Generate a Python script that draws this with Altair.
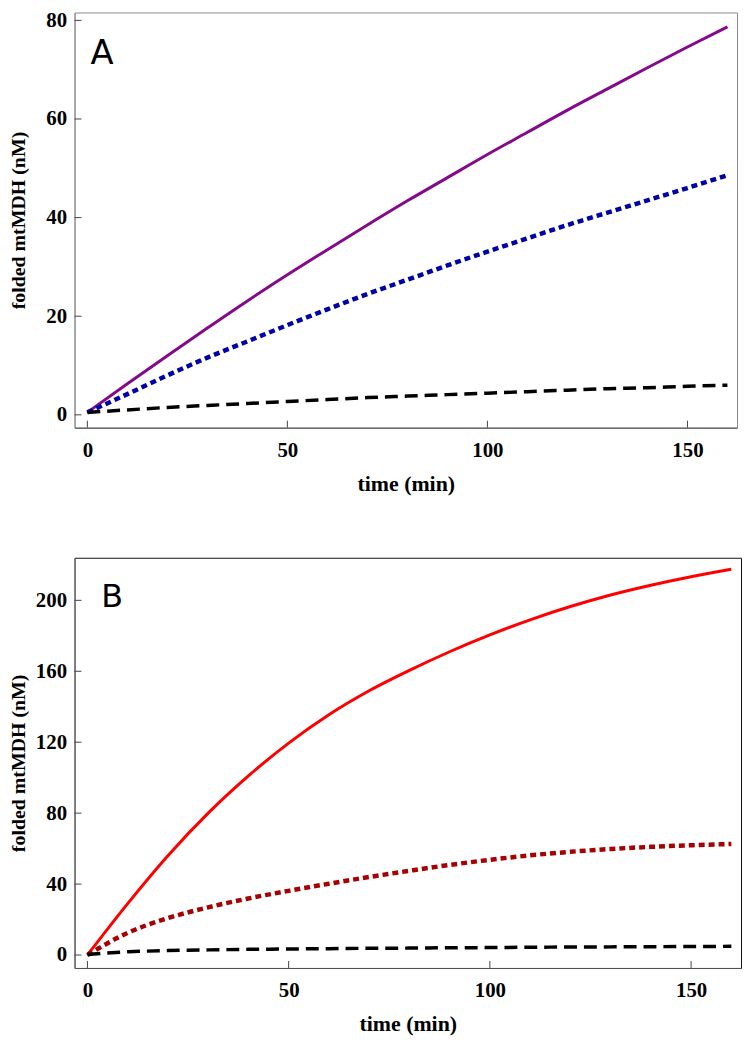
import altair as alt
import pandas as pd

# ---------------- data ----------------
time_a = [0, 10, 20, 30, 40, 50, 60, 70, 80, 90, 100, 110, 120, 130, 140, 150, 160]
purple_a = [0.5, 6.3, 12.0, 17.6, 23.1, 28.4, 33.5, 38.5, 43.4, 48.1, 52.8, 57.3, 61.8, 66.1, 70.4, 74.6, 78.7]
blue_a = [0.5, 4.2, 8.0, 11.6, 14.9, 18.2, 21.4, 24.5, 27.4, 30.3, 33.1, 35.8, 38.5, 41.0, 43.5, 46.0, 48.6]
black_a = [0.5, 1.0, 1.5, 1.9, 2.3, 2.7, 3.1, 3.5, 3.8, 4.1, 4.4, 4.7, 5.0, 5.3, 5.5, 5.8, 6.0]

time_b = [0, 10, 20, 30, 40, 50, 60, 70, 80, 90, 100, 110, 120, 130, 140, 150, 160]
red_b = [0, 29, 56, 80, 101, 119.5, 135.5, 149, 160.5, 171, 180.5, 189, 196.5, 203, 208.5, 213.3, 217.5]
darkred_b = [0, 12.5, 20.8, 26.9, 31.9, 36.2, 40.2, 44.0, 47.5, 50.8, 53.7, 56.2, 58.2, 59.8, 61.0, 61.9, 62.6]
black_b = [0.3, 1.8, 2.5, 2.9, 3.2, 3.4, 3.6, 3.8, 3.9, 4.1, 4.2, 4.4, 4.5, 4.6, 4.7, 4.8, 4.9]

x_ticks = [0, 50, 100, 150]
y_ticks_a = [0, 20, 40, 60, 80]
y_ticks_b = [0, 40, 80, 120, 160, 200]

x_title = "time (min)"
y_title = "folded mtMDH (nM)"

SERIF = "Liberation Serif"


def panel(times, series, y_ticks, y_domain, w, h, letter, letter_pos, letter_size,
          title_x, view_stroke, x_domain_color, y_domain_color):
    xs = alt.Scale(domain=[-3.2, 162.4], nice=False, zero=False)
    ys = alt.Scale(domain=y_domain, nice=False, zero=False)
    xax = alt.Axis(values=x_ticks, title=x_title, titleY=46, labelPadding=12,
                   titleFontSize=22, domain=True, domainColor=x_domain_color, format="d")
    yax = alt.Axis(values=y_ticks, title=y_title, titleX=title_x, labelPadding=8,
                   titleFontSize=20, domain=True, domainColor=y_domain_color, format="d")
    layers = []
    for vals, color, dash, width in series:
        df = pd.DataFrame({"t": times, "v": vals})
        mark_kwargs = dict(color=color, strokeWidth=width, interpolate="monotone",
                           strokeCap="butt", clip=True)
        if dash:
            mark_kwargs["strokeDash"] = dash
        layers.append(
            alt.Chart(df).mark_line(**mark_kwargs).encode(
                x=alt.X("t:Q", scale=xs, axis=xax),
                y=alt.Y("v:Q", scale=ys, axis=yax),
            )
        )
    # inward tick marks
    layers.append(
        alt.Chart(pd.DataFrame({"v": y_ticks})).mark_rule(color="#444", strokeWidth=1).encode(
            y=alt.Y("v:Q", scale=ys, axis=yax), x=alt.value(0), x2=alt.value(7)
        )
    )
    layers.append(
        alt.Chart(pd.DataFrame({"t": x_ticks})).mark_rule(color="#444", strokeWidth=1).encode(
            x=alt.X("t:Q", scale=xs, axis=xax), y=alt.value(h), y2=alt.value(h - 7)
        )
    )
    layers.append(
        alt.Chart(pd.DataFrame({"label": [letter]})).mark_text(
            align="left", baseline="alphabetic", font="DejaVu Sans",
            fontSize=letter_size, color="black"
        ).encode(text="label:N", x=alt.value(letter_pos[0]), y=alt.value(letter_pos[1]))
    )
    return alt.layer(*layers).properties(
        width=w, height=h, view=alt.ViewBackground(stroke=view_stroke, strokeWidth=1, fill="white")
    )


panel_a = panel(
    time_a,
    [
        (purple_a, "#850a8a", None, 3),
        (blue_a, "#0000a8", [6, 4], 4.5),
        (black_a, "#000000", [13, 7], 3.5),
    ],
    y_ticks_a, [-2.6, 81.6], 667, 418, "A", (16, 52), 34, -46,
    "#8a8a8a", "#444444", "#8a8a8a",
)

panel_b = panel(
    time_b,
    [
        (red_b, "#ff0000", None, 3),
        (darkred_b, "#a80000", [6, 4], 4.5),
        (black_b, "#000000", [13, 7], 3.5),
    ],
    y_ticks_b, [-7.3, 224], 671, 413, "B", (27, 50), 32, -46,
    "#111111", "#555555", "#777777",
)

chart = alt.concat(panel_a, panel_b, columns=1, spacing=62).configure_axis(
    grid=False,
    ticks=False,
    tickSize=0,
    labelFont=SERIF,
    labelFontWeight="bold",
    labelFontSize=21,
    labelColor="black",
    titleFont=SERIF,
    titleFontWeight="bold",
    titleColor="black",
).configure_view(stroke="#888")

chart = chart.properties(
    padding={"left": 0, "top": -3, "right": 0, "bottom": 0},
    background="white",
)

chart.save("out.html", embed_options={"renderer": "svg", "actions": False})
